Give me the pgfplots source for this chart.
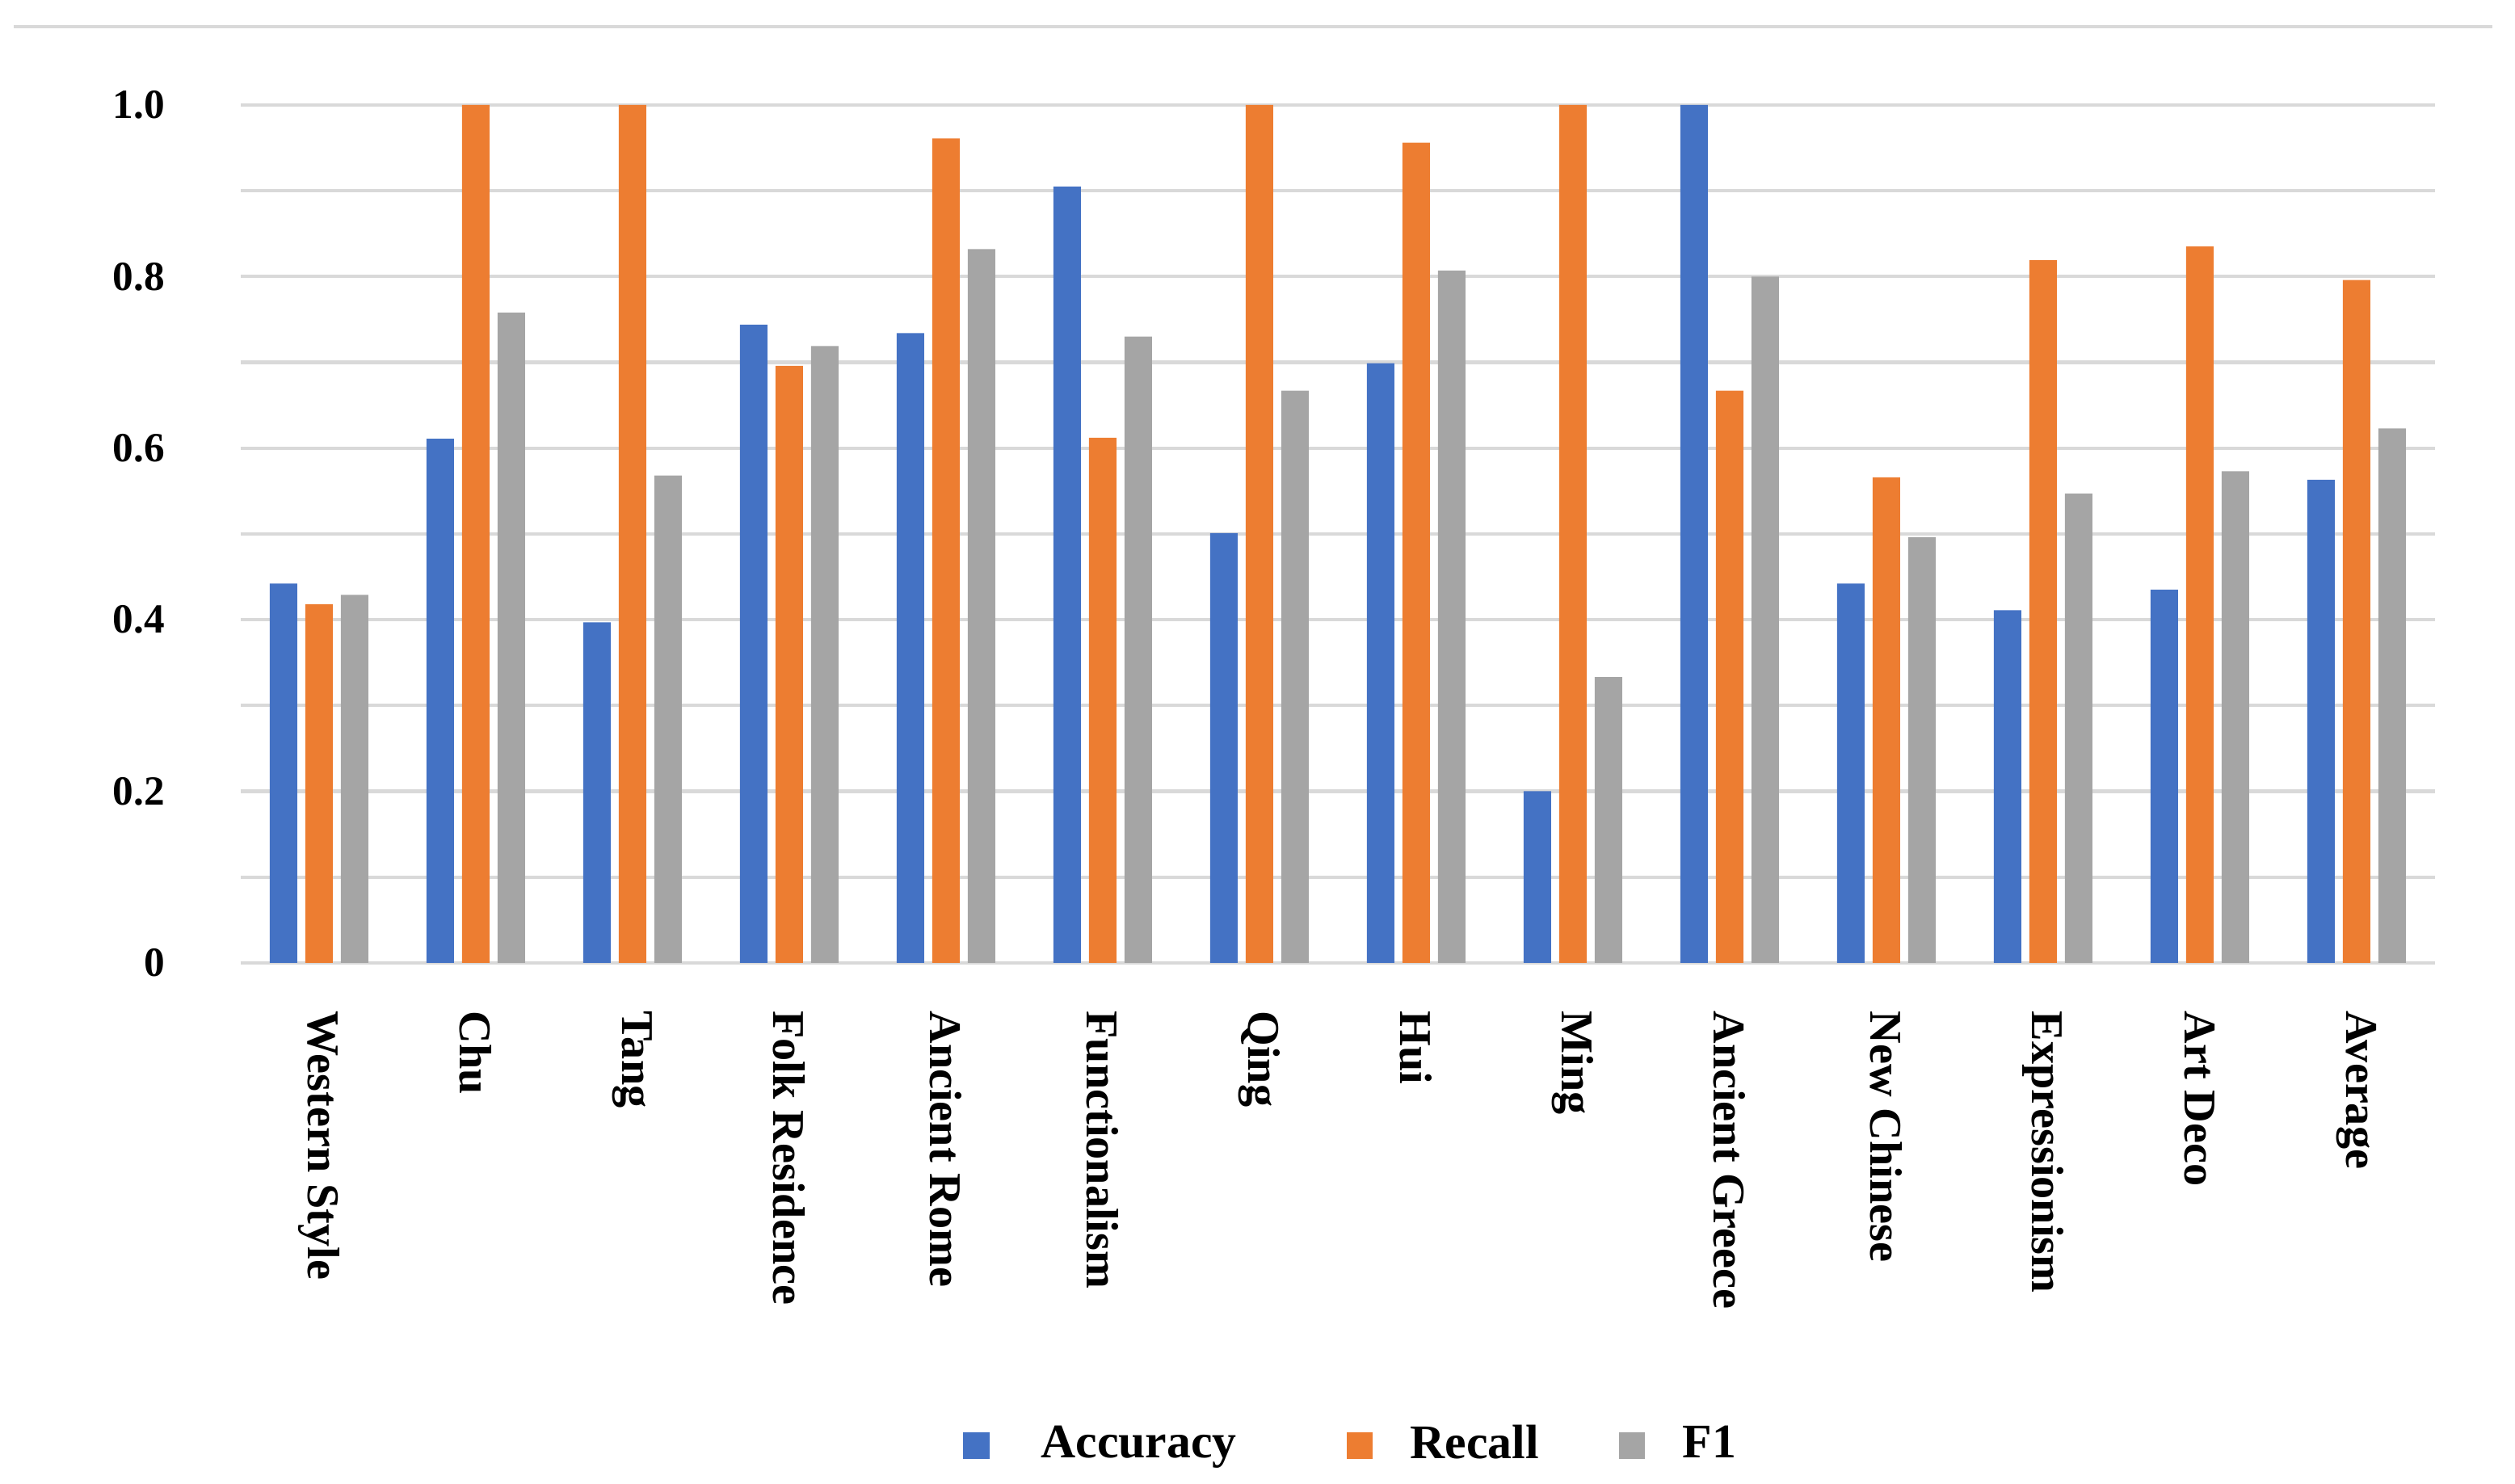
\documentclass[border=0pt]{standalone}
\usepackage{fontspec}
\setmainfont{Liberation Serif}
\usepackage{pgfplots}
\usepackage{pgfplotstable}
\pgfplotsset{compat=1.18}

\definecolor{accblue}{HTML}{4472C4}
\definecolor{recorange}{HTML}{ED7D31}
\definecolor{fgray}{HTML}{A5A5A5}
\definecolor{gridgray}{HTML}{D9D9D9}

% per-style scores
\pgfplotstableread{
idx acc   rec   f1
0   0.442 0.418 0.429
1   0.611 1.000 0.758
2   0.397 1.000 0.568
3   0.744 0.696 0.719
4   0.734 0.961 0.832
5   0.905 0.612 0.730
6   0.501 1.000 0.667
7   0.699 0.956 0.807
8   0.200 1.000 0.333
9   1.000 0.667 0.800
10  0.442 0.566 0.496
11  0.411 0.819 0.547
12  0.435 0.835 0.573
13  0.563 0.796 0.623
}\scores

\begin{document}
\begin{tikzpicture}
\useasboundingbox (-42.4pt,-91.8pt) rectangle (400.6pt,169.6pt);
\draw[gridgray, line width=0.7pt] (-40pt,164.9pt) -- (396.6pt,164.9pt);
\begin{axis}[
	scale only axis,
	width=386.5pt, height=151.1pt,
	ybar=1.42pt, bar width=4.84pt,
	xmin=-0.5, xmax=13.5,
	ymin=0, ymax=1,
	xtick={0,...,13},
	xticklabels={Western Style, Chu, Tang, Folk Residence, Ancient Rome,
		Functionalism, Qing, Hui, Ming, Ancient Greece, New Chinese,
		Expressionism, Art Deco, Average},
	ytick={0,0.2,0.4,0.6,0.8,1.0},
	yticklabels={0,0.2,0.4,0.6,0.8,1.0},
	minor ytick={0.1,0.3,0.5,0.7,0.9},
	ymajorgrids, yminorgrids,
	grid style={gridgray, line width=0.6pt},
	minor grid style={gridgray, line width=0.6pt},
	axis line style={draw=none},
	tick style={draw=none},
	major tick length=0pt, minor tick length=0pt,
	x tick label style={rotate=-90, anchor=west, inner sep=0pt,
		font=\fontsize{8}{9.6}\selectfont\bfseries},
	xticklabel shift=8.3pt,
	y tick label style={anchor=east, inner sep=0pt,
		font=\fontsize{7.3}{8.8}\selectfont\bfseries},
	yticklabel shift=13.2pt,
	legend columns=-1,
	legend style={at={(0.508,-0.563)}, anchor=center, draw=none,
		font=\fontsize{8.5}{10}\selectfont\bfseries,
		/tikz/every odd column/.append style={column sep=4.6pt},
		/tikz/every even column/.append style={column sep=10.6pt}},
	sq/.style={draw=none, fill=#1,
		legend image code/.code={\fill[#1] (0pt,-2.3pt) rectangle (4.6pt,2.3pt);}},
]
\addplot[sq=accblue] table[x=idx, y=acc] {\scores};
\addlegendentry{\kern2.5pt Accuracy\kern6.8pt}
\addplot[sq=recorange] table[x=idx, y=rec] {\scores};
\addlegendentry{Recall\kern1.5pt}
\addplot[sq=fgray] table[x=idx, y=f1] {\scores};
\addlegendentry{F1}
\end{axis}
\end{tikzpicture}
\end{document}
